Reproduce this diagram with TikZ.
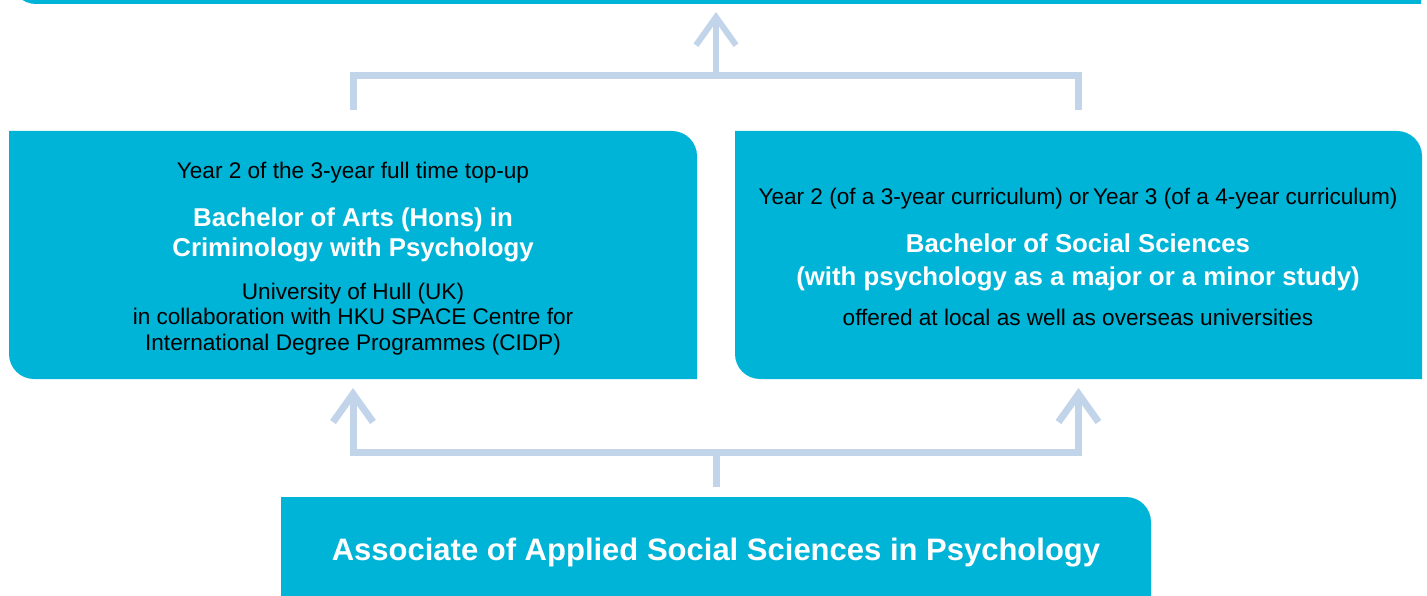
\documentclass[tikz,border=0pt]{standalone}
\usepackage{fontspec}
\setmainfont{Liberation Sans}
\usetikzlibrary{arrows.meta,calc}
\definecolor{boxc}{HTML}{00B4D7}
\definecolor{connc}{HTML}{C1D4EA}
\newcommand\cyanbox[1]{\fill[boxc] (#1.north west) -- ([xshift=-25pt]#1.north east) arc[start angle=90,end angle=0,radius=25pt] -- (#1.south east) -- ([xshift=25pt]#1.south west) arc[start angle=270,end angle=180,radius=25pt] -- cycle;}
\begin{document}
\begin{tikzpicture}[x=1pt,y=-1pt,
  boxarea/.style={draw=none,inner sep=0pt,outer sep=0pt},
  conn/.style={draw=connc,line width=7pt},
  uparrow/.style={-{Straight Barb[length=28pt,width=40pt]}},
  small/.style={anchor=base,inner sep=0pt,font=\fontsize{22.6}{26}\selectfont,text=black},
  title/.style={anchor=base,inner sep=0pt,font=\bfseries\fontsize{25.8}{30}\selectfont,text=white},
  big/.style={anchor=base,inner sep=0pt,font=\bfseries\fontsize{31}{36}\selectfont,text=white}]
\useasboundingbox (0,0) rectangle (1427,596);
\clip (0,0) rectangle (1427,596);
% box areas
\node[boxarea,minimum width=1410pt,minimum height=104pt] (T) at (716,-48) {};
\node[boxarea,minimum width=688pt,minimum height=248pt] (L) at (353,255) {};
\node[boxarea,minimum width=687pt,minimum height=248pt] (R) at (1078.5,255) {};
\node[boxarea,minimum width=870pt,minimum height=150pt] (B) at (716,572) {};
\cyanbox{T}
\cyanbox{L}
\cyanbox{R}
\cyanbox{B}
% texts
\node[small] (l1) at (353,179) {Year 2 of the 3-year full time top-up};
\node[title] (l2) at (353,226) {Bachelor of Arts (Hons) in};
\node[title] (l3) at (353,257) {Criminology with Psychology};
\node[small] (l4) at (353,299) {University of Hull (UK)};
\node[small] (l5) at (353,324) {in collaboration with HKU SPACE Centre for};
\node[small] (l6) at (353,350) {International Degree Programmes (CIDP)};
\node[small] (r1) at (1078,205) {Year 2 (of a 3-year curriculum) or\,Year 3 (of a 4-year curriculum)};
\node[title] (r2) at (1078,252) {Bachelor of Social Sciences};
\node[title] (r3) at (1078,285) {(with psychology as a major or a minor study)};
\node[small] (r4) at (1078,325) {offered at local as well as overseas universities};
\node[big] (b1) at (716,560) {Associate of Applied Social Sciences in Psychology};
% connectors
\coordinate (jt) at (716,76);
\coordinate (jb) at (716,452);
\draw[conn] ([yshift=21pt]L.north) |- (jt) -| ([yshift=21pt]R.north);
\draw[conn,line width=6pt,uparrow] (jt) -- ([yshift=-8pt]T.south);
\draw[conn] ([yshift=10pt]B.north) -- (jb);
\draw[conn,uparrow] (jb) -| ([yshift=-9pt]L.south);
\draw[conn,uparrow] (jb) -| ([yshift=-9pt]R.south);
\end{tikzpicture}
\end{document}
